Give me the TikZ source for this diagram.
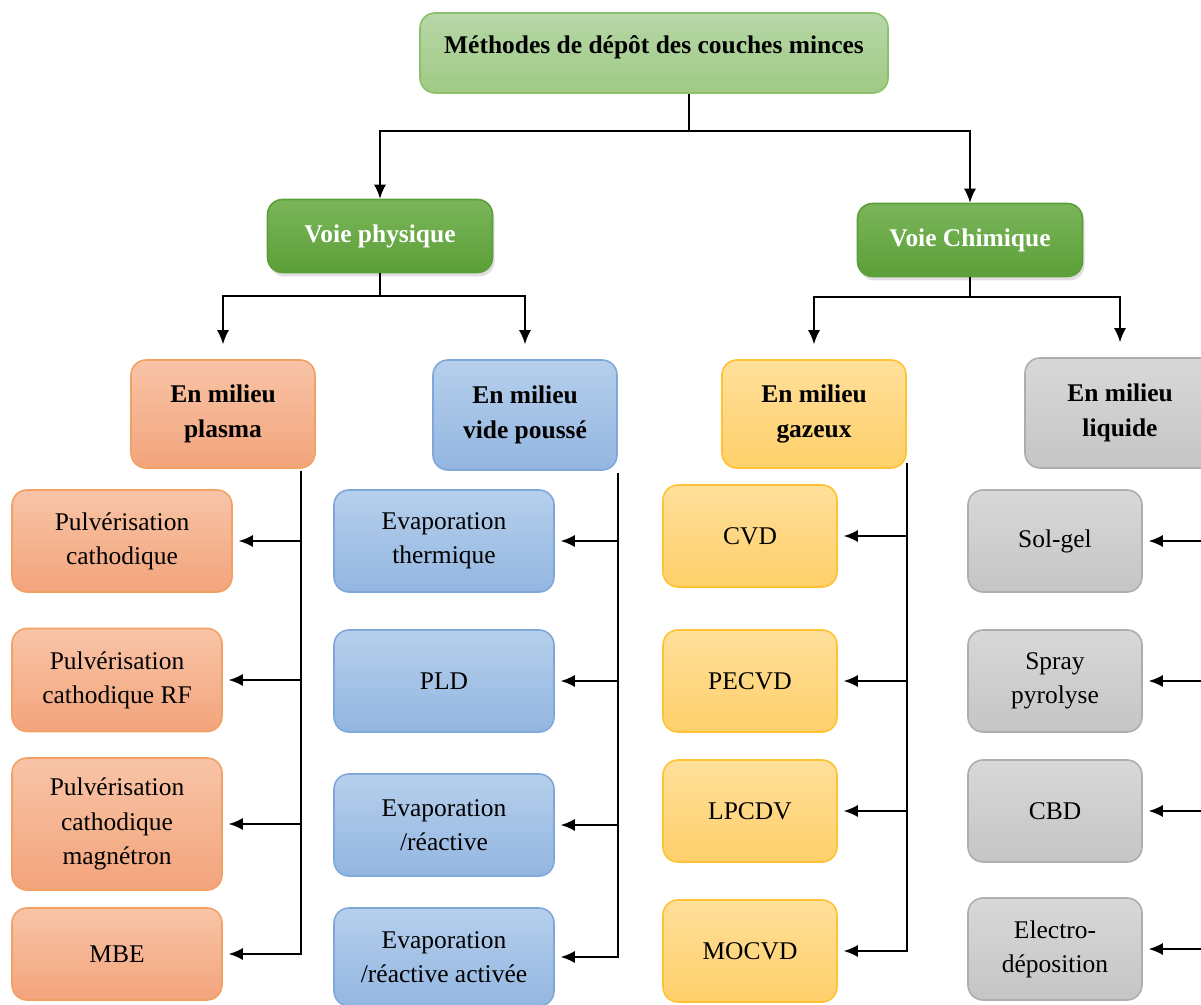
\documentclass[tikz,border=0pt]{standalone}
\usepackage{fontspec}
\setmainfont{Liberation Serif}
\usetikzlibrary{arrows.meta,positioning,shadows}

\definecolor{grnlt}{HTML}{B7D7A8}
\definecolor{grnltb}{HTML}{9FCA84}
\definecolor{grnln}{HTML}{8CC06C}
\definecolor{grndk}{HTML}{7AB55A}
\definecolor{grndkb}{HTML}{5C9F38}
\definecolor{salt}{HTML}{F8C4A7}
\definecolor{salb}{HTML}{F3A47C}
\definecolor{salln}{HTML}{F3A063}
\definecolor{blut}{HTML}{B6CFEC}
\definecolor{blub}{HTML}{93B6E1}
\definecolor{bluln}{HTML}{7FA8D9}
\definecolor{yelt}{HTML}{FFDF9A}
\definecolor{yelb}{HTML}{FFD06B}
\definecolor{yelln}{HTML}{FFC233}
\definecolor{gryt}{HTML}{D8D8D8}
\definecolor{gryb}{HTML}{C5C5C5}
\definecolor{gryln}{HTML}{ADADAD}

\begin{document}
\begin{tikzpicture}[box/.style={rounded corners=0.3cm, align=center, inner sep=2pt,
                        font=\fontsize{14.5}{19.5}\selectfont},
                    head/.style={box, font=\fontsize{14.5}{19.5}\selectfont\bfseries},
                    voie/.style={head, draw=grndkb, top color=grndk, bottom color=grndkb,
                        text=white, drop shadow={opacity=0.25, shadow xshift=0.04cm, shadow yshift=-0.08cm},
                        minimum width=4.5cm, minimum height=1.46cm},
                    pls/.style={draw=salln, top color=salt, bottom color=salb},
                    vid/.style={draw=bluln, top color=blut, bottom color=blub},
                    gaz/.style={draw=yelln, top color=yelt, bottom color=yelb},
                    liq/.style={draw=gryln, top color=gryt, bottom color=gryb},
                    >={Latex[length=0.28cm,width=0.24cm]}, line width=0.9pt]
			\clip (0,0) rectangle (24.02,-20.1);
			% titre et voies
			\node[head, draw=grnln, top color=grnlt, bottom color=grnltb, minimum width=9.36cm,
			      minimum height=1.6cm, text depth=0.35cm] (top) at (13.08,-1.06) {M\'ethodes de d\'ep\^ot des couches minces};
			\node[voie] (vp) at (7.6,-4.72) {Voie physique};
			\node[voie] (vc) at (19.4,-4.8) {Voie Chimique};
			% milieux
			\node[head, pls, minimum width=3.68cm, minimum height=2.16cm] (pl) at (4.46,-8.28) {En milieu\\plasma};
			\node[head, vid, minimum width=3.68cm, minimum height=2.2cm] (vi) at (10.5,-8.3) {En milieu\\vide pouss\'e};
			\node[head, gaz, minimum width=3.68cm, minimum height=2.16cm] (ga) at (16.28,-8.28) {En milieu\\gazeux};
			\node[head, liq, minimum width=3.8cm, minimum height=2.2cm] (li) at (22.4,-8.26) {En milieu\\liquide};
			% plasma
			\node[box, pls, minimum width=4.4cm, minimum height=2.04cm] (pl1) at (2.44,-10.82) {Pulv\'erisation\\cathodique};
			\node[box, pls, minimum width=4.2cm, minimum height=2.06cm] (pl2) at (2.34,-13.6) {Pulv\'erisation\\cathodique RF};
			\node[box, pls, minimum width=4.2cm, minimum height=2.64cm] (pl3) at (2.34,-16.48) {Pulv\'erisation\\cathodique\\magn\'etron};
			\node[box, pls, minimum width=4.2cm, minimum height=1.84cm] (pl4) at (2.34,-19.08) {MBE};
			% vide
			\node[box, vid, minimum width=4.4cm, minimum height=2.04cm] (vi1) at (8.88,-10.82) {Evaporation\\thermique};
			\node[box, vid, minimum width=4.4cm, minimum height=2.04cm] (vi2) at (8.88,-13.62) {PLD};
			\node[box, vid, minimum width=4.4cm, minimum height=2.04cm] (vi3) at (8.88,-16.5) {Evaporation\\/r\'eactive};
			\node[box, vid, minimum width=4.4cm, minimum height=1.96cm] (vi4) at (8.88,-19.14) {Evaporation\\/r\'eactive activ\'ee};
			% gazeux
			\foreach \n/\y/\t in {1/-10.72/CVD, 2/-13.62/PECVD, 3/-16.22/LPCDV, 4/-19.02/MOCVD}
				\node[box, gaz, minimum width=3.48cm, minimum height=2.04cm] (ga\n) at (15.0,\y) {\t};
			% liquide
			\node[box, liq, minimum width=3.48cm, minimum height=2.04cm] (li1) at (21.1,-10.82) {Sol-gel};
			\node[box, liq, minimum width=3.48cm, minimum height=2.04cm] (li2) at (21.1,-13.62) {Spray\\pyrolyse};
			\node[box, liq, minimum width=3.48cm, minimum height=2.04cm] (li3) at (21.1,-16.22) {CBD};
			\node[box, liq, minimum width=3.48cm, minimum height=2.04cm] (li4) at (21.1,-18.98) {Electro-\\d\'eposition};

			% liaisons
			\draw ([xshift=0.7cm]top.south) -- ++(0,-0.74) coordinate (b0);
			\draw[->] (b0) -| (vp.north);
			\draw[->] (b0) -| (vc.north);
			\draw (vp.south) -- ++(0,-0.46) coordinate (b1);
			\draw[->, shorten >=0.3cm] (b1) -| (pl.north);
			\draw[->, shorten >=0.3cm] (b1) -| (vi.north);
			\draw (vc.south) -- ++(0,-0.4) coordinate (b2);
			\draw[->, shorten >=0.3cm] (b2) -| (ga.north);
			\draw[->, shorten >=0.3cm] (b2) -| (li.north);

			\coordinate (spl) at ([xshift=-0.3cm, yshift=-0.04cm]pl.south east);
			\coordinate (svi) at ([yshift=-0.04cm]vi.south east);
			\coordinate (sga) at ([yshift=0.12cm]ga.south east);
			\coordinate (sli) at (24.24,-9.4);
			\foreach \s/\c in {spl/pl, svi/vi, sga/ga, sli/li}{
				\draw[->, shorten >=0.12cm] (\s) |- (\c4.east);
				\foreach \k in {1,2,3}
					\draw[->, shorten >=0.12cm] (\c\k.east -| \s) -- (\c\k.east);
			}
		\end{tikzpicture}
\end{document}
